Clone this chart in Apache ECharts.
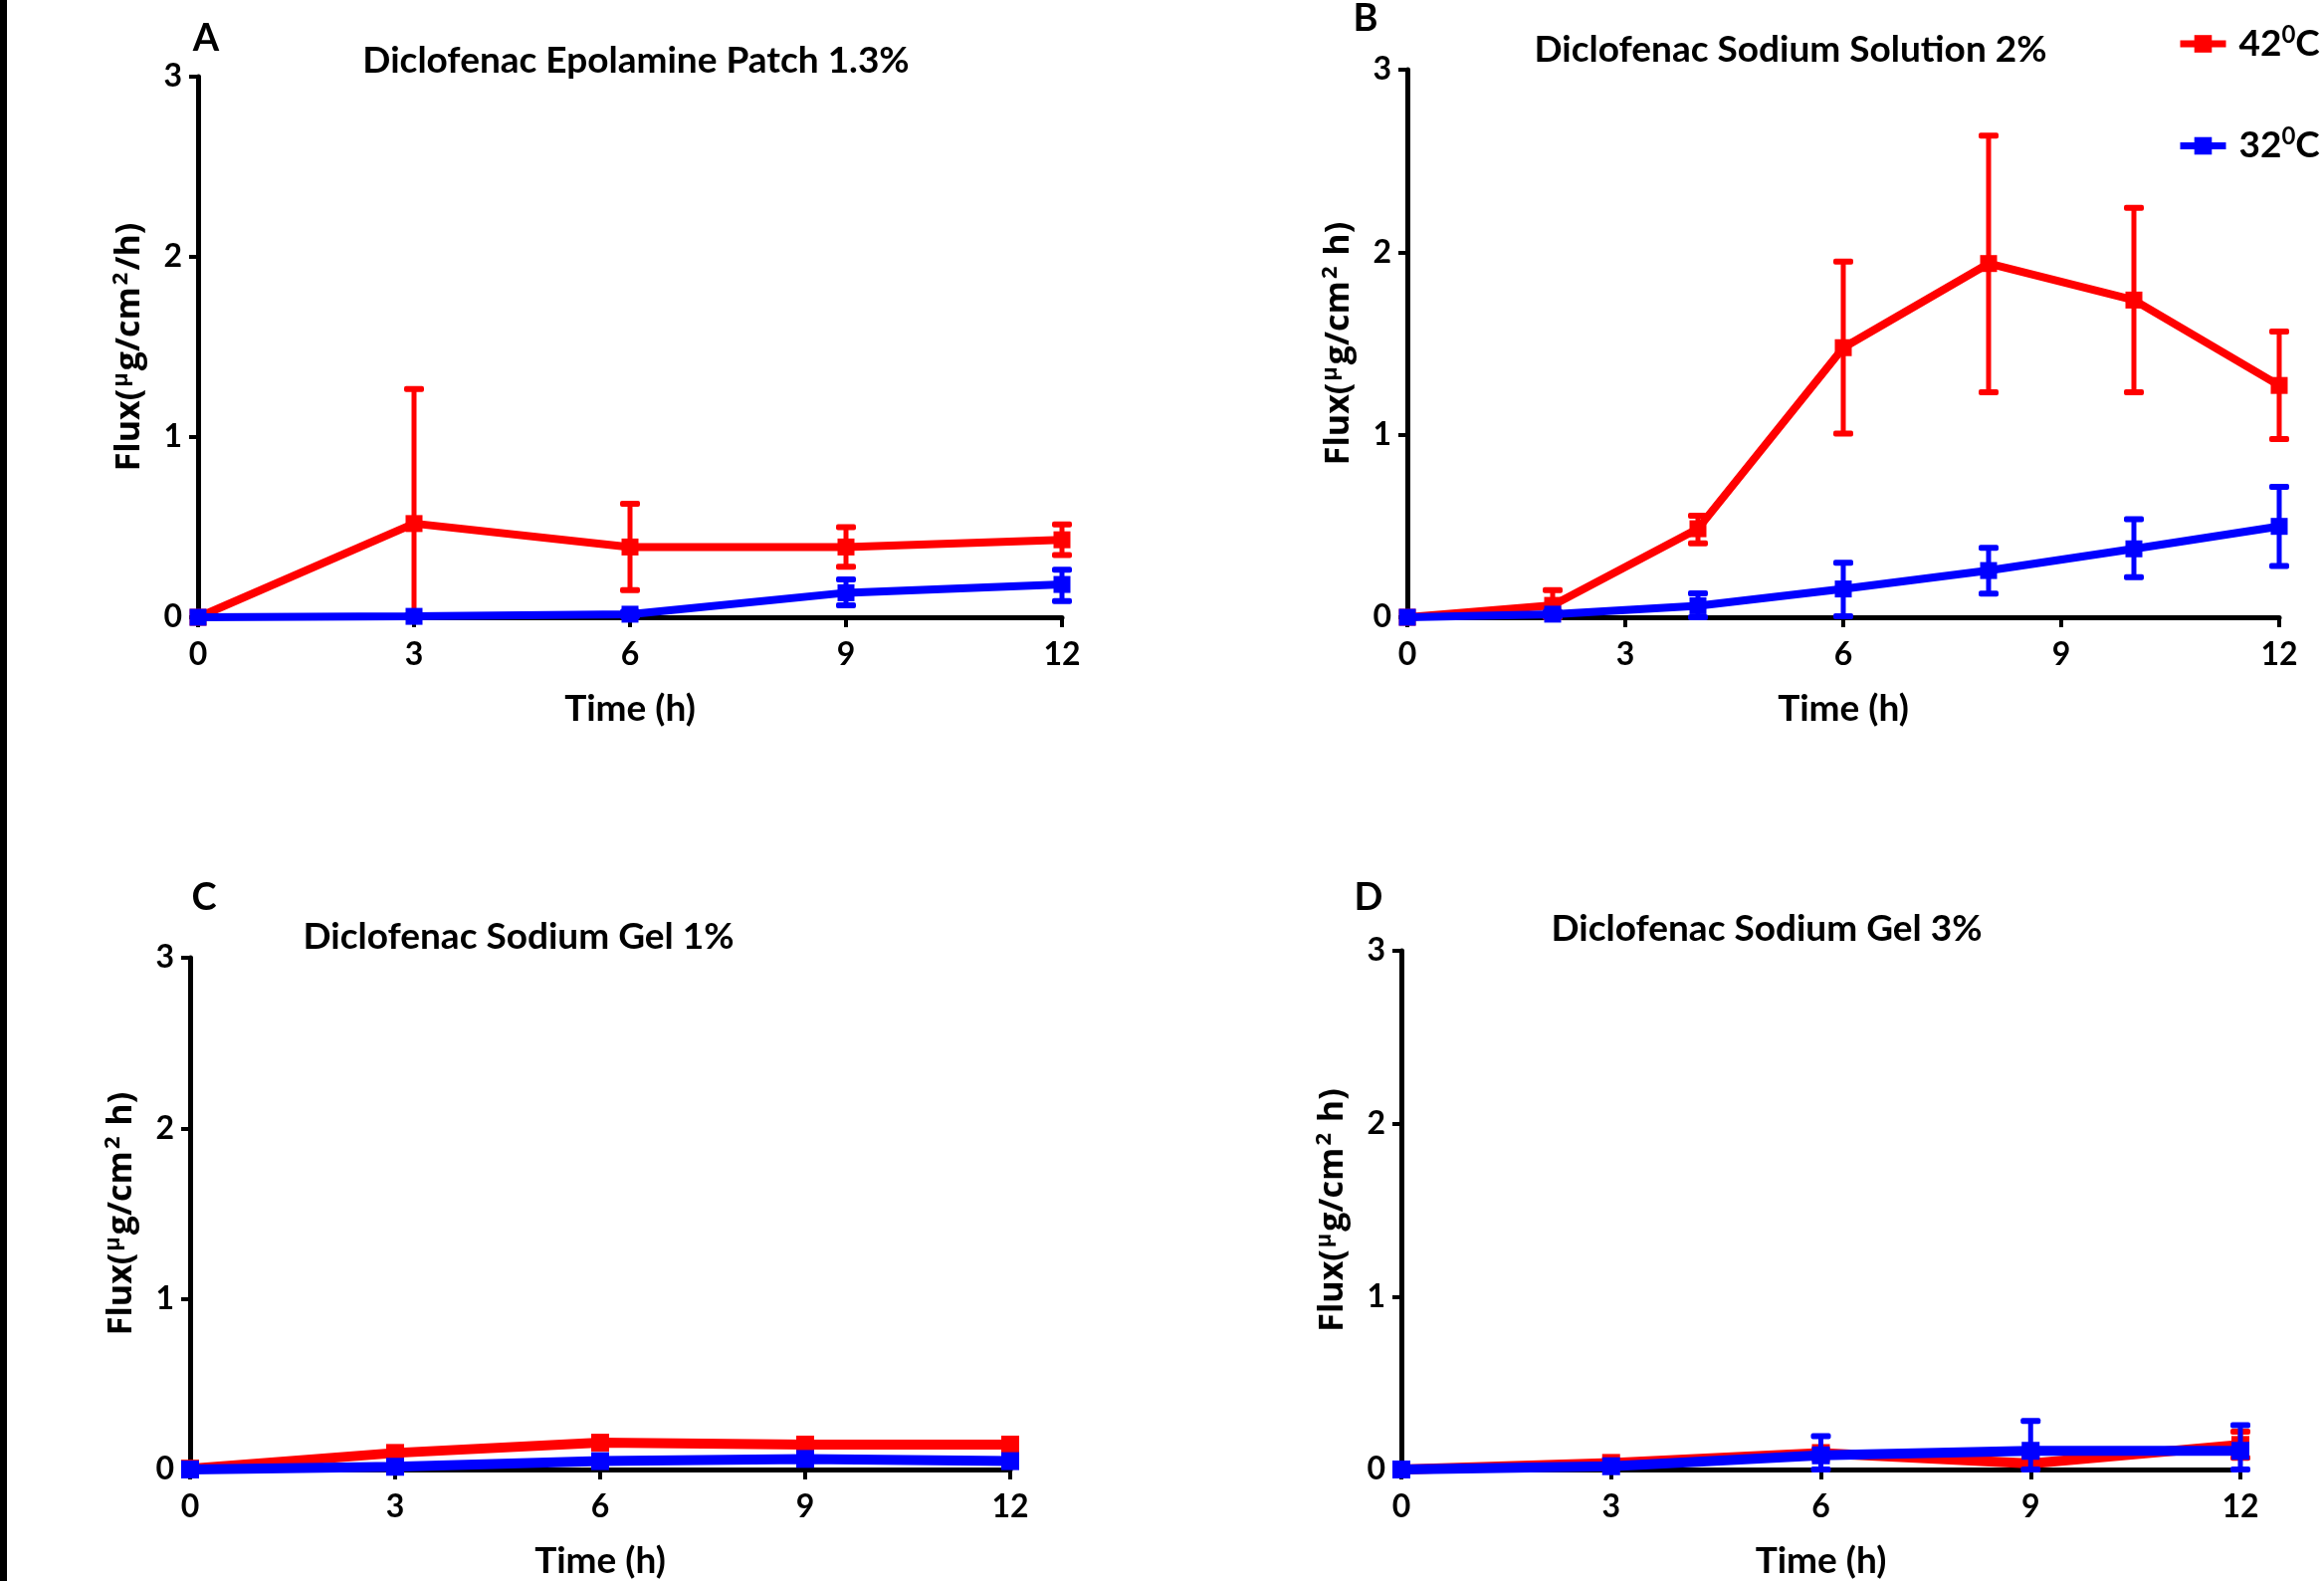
<!DOCTYPE html>
<html>
<head>
<meta charset="utf-8">
<title>Diclofenac flux</title>
<script src="https://cdn.jsdelivr.net/npm/echarts@6/dist/echarts.min.js"></script>
<style>
  html, body { margin: 0; padding: 0; background: #fff; }
  #main { width: 2335px; height: 1588px; }
</style>
</head>
<body>
<div id="main"></div>
<script>
// ---- data (flux, ug/cm2/h) ----
const seriesNames = ['42°C', '32°C'];

// A: Diclofenac Epolamine Patch 1.3%
const timeA = [0, 3, 6, 9, 12];
const meanA42 = [0, 0.52, 0.39, 0.39, 0.43];
const lowA42 = [0, 0, 0.15, 0.28, 0.345];
const highA42 = [0, 1.267, 0.63, 0.50, 0.515];
const meanA32 = [0, 0.005, 0.017, 0.136, 0.182];
const lowA32 = [0, 0, 0.005, 0.066, 0.09];
const highA32 = [0, 0.01, 0.03, 0.21, 0.264];

// B: Diclofenac Sodium Solution 2%
const timeB = [0, 2, 4, 6, 8, 10, 12];
const meanB42 = [0, 0.065, 0.485, 1.477, 1.938, 1.738, 1.27];
const lowB42 = [0, 0, 0.405, 1.006, 1.233, 1.233, 0.977];
const highB42 = [0, 0.149, 0.556, 1.949, 2.638, 2.243, 1.565];
const meanB32 = [0, 0.017, 0.063, 0.155, 0.256, 0.375, 0.498];
const lowB32 = [0, 0.005, 0, 0.006, 0.13, 0.22, 0.281];
const highB32 = [0, 0.03, 0.131, 0.298, 0.38, 0.537, 0.715];

// C: Diclofenac Sodium Gel 1%
const timeC = [0, 3, 6, 9, 12];
const meanC42 = [0.005, 0.097, 0.157, 0.146, 0.146];
const meanC32 = [0, 0.016, 0.049, 0.062, 0.049];

// D: Diclofenac Sodium Gel 3%
const timeD = [0, 3, 6, 9, 12];
const meanD42 = [0, 0.038, 0.095, 0.035, 0.142];
const lowD42 = [0, 0.03, 0.08, 0.02, 0.067];
const highD42 = [0, 0.046, 0.11, 0.05, 0.219];
const meanD32 = [0, 0.019, 0.082, 0.108, 0.108];
const lowD32 = [0, 0.01, 0, 0, 0];
const highD32 = [0, 0.03, 0.193, 0.28, 0.256];

const xTicks = [0, 3, 6, 9, 12];
const yTicks = [0, 1, 2, 3];

const panelLetters = ['A', 'B', 'C', 'D'];
const panelTitles = [
  'Diclofenac Epolamine Patch 1.3%',
  'Diclofenac Sodium Solution 2%',
  'Diclofenac Sodium Gel 1%',
  'Diclofenac Sodium Gel 3%'
];

// ---- styling ----
const RED = '#ff0000';
const BLUE = '#0000ff';
const LABEL_FONT = 'Lato, "Liberation Sans", sans-serif';
const NAME_FONT = '"Open Sans", "DejaVu Sans", sans-serif';

// grid boxes (px) and text spots for each panel
const layout = [
  { grid: { left: 199, top: 77, width: 868, height: 543 }, letter: [207, 20], title: [639, 43], lineW: 8, sym: 17, slash: true },
  { grid: { left: 1414, top: 70, width: 876, height: 550 }, letter: [1372, 0], title: [1799, 32], lineW: 8, sym: 17, slash: false },
  { grid: { left: 191, top: 962, width: 824, height: 515 }, letter: [205, 883], title: [521, 923], lineW: 10, sym: 18, slash: false },
  { grid: { left: 1408, top: 955, width: 843, height: 527 }, letter: [1375, 883], title: [1775, 915], lineW: 10, sym: 18, slash: false }
];

const panelData = [
  { t: timeA, r: [meanA42, lowA42, highA42], b: [meanA32, lowA32, highA32] },
  { t: timeB, r: [meanB42, lowB42, highB42], b: [meanB32, lowB32, highB32] },
  { t: timeC, r: [meanC42, null, null], b: [meanC32, null, null] },
  { t: timeD, r: [meanD42, lowD42, highD42], b: [meanD32, lowD32, highD32] }
];

function errorBars(color) {
  return function (params, api) {
    const x = api.value(0);
    const top = api.coord([x, api.value(2)]);
    const bot = api.coord([x, api.value(1)]);
    const style = { fill: color };
    return {
      type: 'group',
      children: [
        { type: 'rect', shape: { x: top[0] - 2.5, y: top[1], width: 5, height: bot[1] - top[1] }, style },
        { type: 'rect', shape: { x: top[0] - 10, y: top[1] - 3, width: 20, height: 6, r: 2 }, style },
        { type: 'rect', shape: { x: bot[0] - 10, y: bot[1] - 3, width: 20, height: 6, r: 2 }, style }
      ]
    };
  };
}

const grids = [], xAxes = [], yAxes = [], lines = [], bars = [], titles = [];

layout.forEach((p, i) => {
  grids.push(p.grid);

  xAxes.push({
    gridIndex: i, type: 'value', min: 0, max: 12, interval: 3,
    name: 'Time (h)', nameLocation: 'middle', nameGap: 74,
    nameTextStyle: { fontFamily: LABEL_FONT, fontWeight: 'bold', fontSize: 37, color: '#000' },
    axisLine: { onZero: false, lineStyle: { color: '#000', width: 5 } },
    axisTick: { show: true, length: 10, lineStyle: { color: '#000', width: 4 } },
    axisLabel: { fontFamily: LABEL_FONT, fontWeight: 'bold', fontSize: 32, color: '#000', margin: 22,
      formatter: v => xTicks.includes(v) ? String(v) : '' },
    splitLine: { show: false }
  });

  yAxes.push({
    gridIndex: i, type: 'value', min: 0, max: 3, interval: 1,
    name: p.slash ? 'Flux({s|μ}g/cm{s|2}/h)' : 'Flux({s|μ}g/cm{s|2} h)',
    nameLocation: 'middle', nameRotate: 90, nameGap: 50,
    nameTextStyle: {
      fontFamily: NAME_FONT, fontWeight: 'bold', fontSize: 34, color: '#000',
      rich: { s: { fontFamily: NAME_FONT, fontWeight: 'bold', fontSize: 22, color: '#000', padding: [0, 2, 16, 2] } }
    },
    axisLine: { onZero: false, lineStyle: { color: '#000', width: 5 } },
    axisTick: { show: true, length: 9, lineStyle: { color: '#000', width: 4 } },
    axisLabel: { fontFamily: LABEL_FONT, fontWeight: 'bold', fontSize: 32, color: '#000', margin: 16,
      formatter: v => yTicks.includes(v) ? String(v) : '' },
    splitLine: { show: false }
  });

  titles.push({
    text: panelLetters[i], left: p.letter[0], top: p.letter[1], textAlign: 'center', padding: 0,
    textStyle: { fontFamily: LABEL_FONT, fontWeight: 'bold', fontSize: 38, color: '#000' }
  });
  titles.push({
    text: panelTitles[i], left: p.title[0], top: p.title[1], textAlign: 'center', padding: 0,
    textStyle: { fontFamily: LABEL_FONT, fontWeight: 'bold', fontSize: 37, color: '#000' }
  });

  const d = panelData[i];
  [[d.r, RED, seriesNames[0], 1], [d.b, BLUE, seriesNames[1], 3]].forEach(([vals, color, name, z]) => {
    const [mean, low, high] = vals;
    lines.push({
      type: 'line', name: name, xAxisIndex: i, yAxisIndex: i, z: z + 1,
      data: d.t.map((t, k) => [t, mean[k]]),
      symbol: 'rect', symbolSize: p.sym, showSymbol: true,
      lineStyle: { color: color, width: p.lineW },
      itemStyle: { color: color },
      clip: false
    });
    if (low && high) {
      const pts = [];
      d.t.forEach((t, k) => { if (high[k] > low[k]) pts.push([t, low[k], high[k]]); });
      bars.push({
        type: 'custom', name: name, xAxisIndex: i, yAxisIndex: i, z: z,
        renderItem: errorBars(color), data: pts, itemStyle: { color: color },
        encode: { x: 0, y: [1, 2] }, clip: false, silent: true
      });
    }
  });
});

const chart = echarts.init(document.getElementById('main'), null, { renderer: 'canvas' });
chart.setOption({
  backgroundColor: '#fff',
  animation: false,
  title: titles,
  legend: {
    data: seriesNames, orient: 'vertical', left: 2182, top: 18, itemGap: 63,
    itemWidth: 46, itemHeight: 22,
    lineStyle: { width: 7 },
    formatter: n => n.replace('°', '{s|0}'),
    textStyle: {
      fontFamily: LABEL_FONT, fontWeight: 'bold', fontSize: 37, color: '#000', padding: [0, 0, 0, 8],
      rich: { s: { fontFamily: LABEL_FONT, fontWeight: 'bold', fontSize: 24, color: '#000', padding: [0, 0, 18, 0] } }
    }
  },
  grid: grids,
  xAxis: xAxes,
  yAxis: yAxes,
  series: lines.concat(bars),
  graphic: [
    { type: 'rect', left: 0, top: 0, shape: { width: 7, height: 1588 }, style: { fill: '#000' } }
  ]
});
</script>
</body>
</html>
